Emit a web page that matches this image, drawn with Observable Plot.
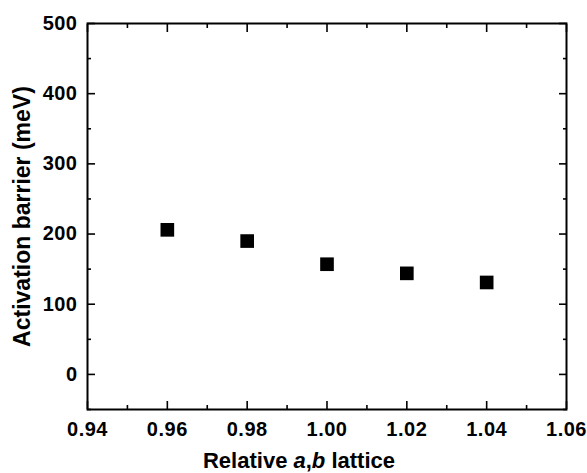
<!DOCTYPE html>
<html>
<head>
<meta charset="utf-8">
<script src="https://cdn.jsdelivr.net/npm/d3@7"></script>
<script src="https://cdn.jsdelivr.net/npm/@observablehq/plot@0.6"></script>
<style>
  body { margin: 0; background: #fff; }
  #chart svg { font-family: "Liberation Sans", Arial, sans-serif; font-weight: bold; }
  #chart g[aria-label="x-axis tick label"],
  #chart g[aria-label="y-axis tick label"] { letter-spacing: 0.5px; }
</style>
</head>
<body>
<div id="chart"></div>
<script>
const lattice = [0.96, 0.98, 1.00, 1.02, 1.04];
const barrier = [206, 190, 157, 144, 131];
const xMajor = [0.94, 0.96, 0.98, 1.00, 1.02, 1.04, 1.06];
const xMinor = [0.95, 0.97, 0.99, 1.01, 1.03, 1.05];
const yMajor = [0, 100, 200, 300, 400, 500];
const yMinor = [-50, 50, 150, 250, 350, 450];

const data = lattice.map((x, i) => ({x, y: barrier[i]}));
const blank = () => "";

const plot = Plot.plot({
  width: 587,
  height: 473,
  marginLeft: 87,
  marginRight: 21,
  marginTop: 23,
  marginBottom: 64,
  style: {fontSize: "20px", fontWeight: "bold", color: "#000", background: "#fff"},
  x: {domain: [0.94, 1.06]},
  y: {domain: [-50, 500]},
  marks: [
    Plot.frame({stroke: "#000", strokeWidth: 2}),
    // tick labels and axis titles
    Plot.axisX(xMajor, {tickSize: 0, tickPadding: 12, tickFormat: d3.format(".2f"), label: "Relative a,b lattice", labelAnchor: "center", labelOffset: 58, fontSize: 20}),
    Plot.axisY(yMajor, {tickSize: 0, tickPadding: 10, tickFormat: d3.format("d"), label: "Activation barrier (meV)", labelAnchor: "center", labelOffset: 74, labelArrow: "none", fontSize: 20}),
    // inward ticks on all four sides
    Plot.axisX(xMajor, {anchor: "bottom", tickSize: -8, tickFormat: blank, label: null, strokeWidth: 1.6}),
    Plot.axisX(xMinor, {anchor: "bottom", tickSize: -4, tickFormat: blank, label: null, strokeWidth: 1.6}),
    Plot.axisX(xMajor, {anchor: "top", tickSize: -8, tickFormat: blank, label: null, strokeWidth: 1.6}),
    Plot.axisX(xMinor, {anchor: "top", tickSize: -4, tickFormat: blank, label: null, strokeWidth: 1.6}),
    Plot.axisY(yMajor, {anchor: "left", tickSize: -8, tickFormat: blank, label: null, strokeWidth: 1.6}),
    Plot.axisY(yMinor, {anchor: "left", tickSize: -4, tickFormat: blank, label: null, strokeWidth: 1.6}),
    Plot.axisY(yMajor, {anchor: "right", tickSize: -8, tickFormat: blank, label: null, strokeWidth: 1.6}),
    Plot.axisY(yMinor, {anchor: "right", tickSize: -4, tickFormat: blank, label: null, strokeWidth: 1.6}),
    Plot.dot(data, {x: "x", y: "y", symbol: "square", r: 7.7, fill: "#000", stroke: "none"})
  ]
});

document.getElementById("chart").appendChild(plot);

// axis titles: larger, bold; italicize a and b in the x title
const svg = d3.select(plot);
svg.selectAll('g[aria-label="x-axis label"] text').style("font-size", "22px").style("font-weight", "bold");
svg.selectAll('g[aria-label="y-axis label"] text').style("font-size", "23px").style("font-weight", "bold");
const xl = svg.select('g[aria-label="x-axis label"] text');
if (!xl.empty()) {
  xl.text(null);
  xl.append("tspan").attr("dx", -28).text("Relative ");
  xl.append("tspan").style("font-style", "italic").text("a");
  xl.append("tspan").text(",");
  xl.append("tspan").style("font-style", "italic").text("b");
  xl.append("tspan").text(" lattice");
}
</script>
</body>
</html>
